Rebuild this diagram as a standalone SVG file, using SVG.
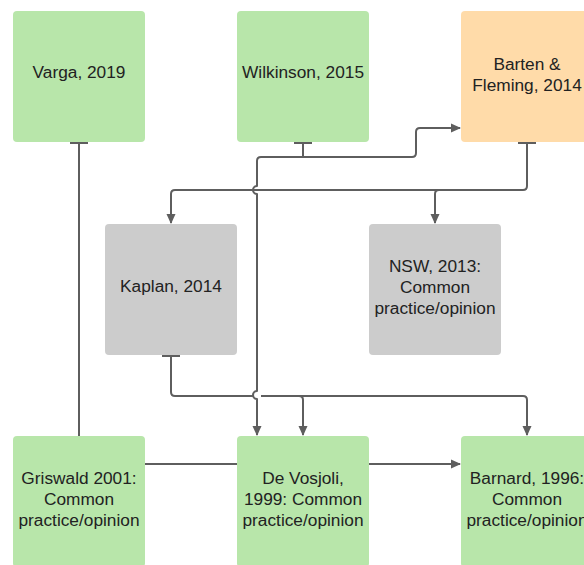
<svg xmlns="http://www.w3.org/2000/svg" width="584" height="565" viewBox="0 0 584 565">
<defs>
<style>
.g{fill:#b8e6aa}
.o{fill:#ffdba9}
.y{fill:#cccccc}
text{font-family:"Liberation Sans",Arial,sans-serif;font-size:17.3px;fill:#222;text-anchor:middle}
.c{fill:none;stroke:#5e5e5e;stroke-width:2;stroke-linejoin:round}
</style>
<marker id="a" viewBox="0 0 10 10" refX="9" refY="5" markerWidth="10" markerHeight="10" markerUnits="userSpaceOnUse" orient="auto">
<path d="M0,0.5 L10,5 L0,9.5 Z" fill="#5e5e5e"/>
</marker>
</defs>
<rect width="584" height="565" fill="#fff"/>
<g id="connectors">
<!-- Varga -> Griswald -->
<path class="c" d="M79,143 V436"/>
<path class="c" d="M70,143 H88"/>
<!-- Wilkinson -> Barten -->
<path class="c" d="M303,143 V157 H412 Q416,157 416,153 V132 Q416,128 420,128 H460" marker-end="url(#a)"/>
<!-- Wilkinson -> De Vosjoli -->
<path class="c" d="M303,157 H261 Q257,157 257,161 V186 A4,4 0 0 0 257,194 V391 A4,4 0 0 0 257,399 V435" marker-end="url(#a)"/>
<path class="c" d="M294,143 H312"/>
<!-- Barten -> Kaplan, NSW -->
<path class="c" d="M527,143 V186 Q527,190 523,190 H175 Q171,190 171,194 V223" marker-end="url(#a)"/>
<path class="c" d="M439,190 Q435,190 435,194 V223" marker-end="url(#a)"/>
<path class="c" d="M518,143 H536"/>
<!-- Kaplan -> De Vosjoli, Barnard -->
<path class="c" d="M171,356 V392 Q171,396 175,396 H253 M261,396 H523 Q527,396 527,400 V435" marker-end="url(#a)"/>
<path class="c" d="M299,396 Q303,396 303,400 V435" marker-end="url(#a)"/>
<path class="c" d="M162,356 H180"/>
<!-- Griswald - De Vosjoli -->
<path class="c" d="M145,464 H237"/>
<!-- De Vosjoli -> Barnard -->
<path class="c" d="M369,464 H460" marker-end="url(#a)"/>
</g>
<g id="varga"><rect class="g" x="13" y="11" width="132" height="131" rx="4"/><text x="79" y="78">Varga, 2019</text></g>
<g id="wilkinson"><rect class="g" x="237" y="11" width="132" height="131" rx="4"/><text x="303" y="78">Wilkinson, 2015</text></g>
<g id="barten"><rect class="o" x="461" y="11" width="132" height="131" rx="4"/><text x="527" y="70">Barten &amp;</text><text x="527" y="91">Fleming, 2014</text></g>
<g id="kaplan"><rect class="y" x="105" y="224" width="132" height="131" rx="4"/><text x="171" y="292">Kaplan, 2014</text></g>
<g id="nsw"><rect class="y" x="369" y="224" width="132" height="131" rx="4"/><text x="435" y="272">NSW, 2013:</text><text x="435" y="293">Common</text><text x="435" y="314">practice/opinion</text></g>
<g id="griswald"><rect class="g" x="13" y="436" width="132" height="131" rx="4"/><text x="79" y="484">Griswald 2001:</text><text x="79" y="505">Common</text><text x="79" y="526">practice/opinion</text></g>
<g id="devosjoli"><rect class="g" x="237" y="436" width="132" height="131" rx="4"/><text x="303" y="484">De Vosjoli,</text><text x="303" y="505">1999: Common</text><text x="303" y="526">practice/opinion</text></g>
<g id="barnard"><rect class="g" x="461" y="436" width="132" height="131" rx="4"/><text x="527" y="484">Barnard, 1996:</text><text x="527" y="505">Common</text><text x="527" y="526">practice/opinion</text></g>
</svg>
